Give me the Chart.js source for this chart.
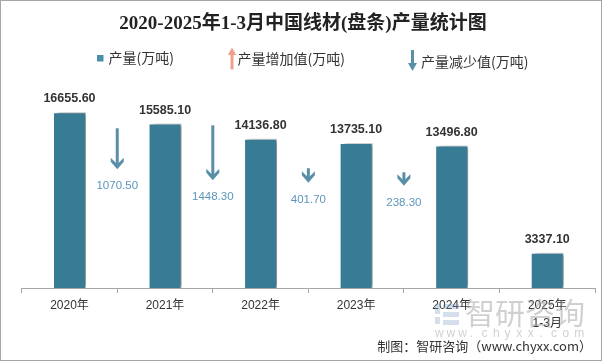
<!DOCTYPE html>
<html>
<head>
<meta charset="utf-8">
<script src="https://cdn.jsdelivr.net/npm/chart.js@4.4.1/dist/chart.umd.min.js"></script>
<style>
  html, body { margin: 0; padding: 0; background: #fff; }
  #wrap { width: 604px; height: 361px; position: relative; }
</style>
</head>
<body>
<div id="wrap"><canvas id="lineChart"></canvas></div>
<script>
// Dữ liệu biểu đồ
const categories = ['2020年', '2021年', '2022年', '2023年', '2024年', ['2025年', '1-3月']];
const production = [16655.6, 15585.1, 14136.8, 13735.1, 13496.8, 3337.1];
const decrease = [1070.5, 1448.3, 401.7, 238.3];
const arrowTop = [15140, 15420, 11350, 10970];
const arrowBottom = [11250, 10210, 9970, 9690];

const titleText = '2020-2025年1-3月中国线材(盘条)产量统计图';
const legendTexts = ['产量(万吨)', '产量增加值(万吨)', '产量减少值(万吨)'];
const sourceText = '制图：智研咨询（www.chyxx.com）';

const BAR_COLOR = '#387b94';
const ARROW_COLOR = '#5a8fa7';
const ARROW_LABEL = '#5b96bb';
const UP_COLOR = '#f0a08a';
const TEXT = '#333333';
const CJK = '"Noto Sans CJK SC"';

/**
 * Bóng đổ cho cột
 */
const shadowPlugin = {
    id: 'barShadow',
    beforeDatasetDraw(chart) {
        const ctx = chart.ctx;
        ctx.save();
        ctx.shadowColor = 'rgba(0,0,0,0.45)';
        ctx.shadowOffsetX = 4;
        ctx.shadowOffsetY = 0;
        ctx.shadowBlur = 4;
    },
    afterDatasetDraw(chart) {
        chart.ctx.restore();
    }
};

function drawDownArrow(ctx, cx, top, bot) {
    const headH = 11.5, half = 6.5, t = 4;
    ctx.fillStyle = ARROW_COLOR;
    if (bot - 3 > top) ctx.fillRect(cx - 1.5, top, 3, bot - 3 - top);
    ctx.beginPath();
    ctx.moveTo(cx, bot);
    ctx.lineTo(cx - half, bot - headH + t);
    ctx.lineTo(cx - half, bot - headH);
    ctx.lineTo(cx, bot - t - 1);
    ctx.lineTo(cx + half, bot - headH);
    ctx.lineTo(cx + half, bot - headH + t);
    ctx.closePath();
    ctx.fill();
}

/**
 * Mũi tên giảm + nhãn, nhãn giá trị
 */
const decorPlugin = {
    id: 'decor',
    afterDatasetsDraw(chart) {
        const ctx = chart.ctx;
        const xs = chart.scales.x, ys = chart.scales.y;
        ctx.save();

        // nhãn giá trị trên cột
        const meta = chart.getDatasetMeta(0);
        ctx.font = 'bold 12.5px "Liberation Sans", Arial';
        ctx.fillStyle = TEXT;
        ctx.textAlign = 'center';
        ctx.textBaseline = 'middle';
        meta.data.forEach((bar, i) => {
            ctx.fillText(production[i].toFixed(2), bar.x, bar.y - 13.5);
        });

        // mũi tên giảm
        decrease.forEach((v, i) => {
            const cx = (xs.getPixelForValue(i) + xs.getPixelForValue(i + 1)) / 2;
            const top = ys.getPixelForValue(arrowTop[i]);
            const bot = ys.getPixelForValue(arrowBottom[i]);
            drawDownArrow(ctx, cx, top, bot);
            ctx.font = '11.5px "Liberation Sans", Arial';
            ctx.fillStyle = ARROW_LABEL;
            ctx.fillText(v.toFixed(2), cx, bot + 17);
        });
        ctx.restore();
    },
    afterDraw(chart) {
        const ctx = chart.ctx;
        ctx.save();

        // tiêu đề
        ctx.font = 'bold 19px "Liberation Serif", ' + CJK;
        ctx.fillStyle = '#222';
        ctx.textAlign = 'center';
        ctx.textBaseline = 'middle';
        ctx.fillText(titleText, 303, 24);

        // chú thích
        ctx.textAlign = 'left';
        ctx.font = '14px ' + CJK;
        ctx.fillStyle = '#4a8fa9';
        ctx.fillRect(97, 55, 6.5, 6.5);
        ctx.fillStyle = TEXT;
        ctx.fillText(legendTexts[0], 108.5, 57.5);

        // mũi tên lên (cam)
        ctx.fillStyle = UP_COLOR;
        ctx.fillRect(230.5, 54, 3, 15.5);
        ctx.beginPath();
        ctx.moveTo(232, 47.5);
        ctx.lineTo(236.2, 55);
        ctx.lineTo(227.8, 55);
        ctx.closePath();
        ctx.fill();
        ctx.fillStyle = TEXT;
        ctx.fillText(legendTexts[1], 237.5, 59);

        // mũi tên xuống
        ctx.fillStyle = ARROW_COLOR;
        ctx.fillRect(411, 50, 3, 14);
        ctx.beginPath();
        ctx.moveTo(412.5, 71);
        ctx.lineTo(417, 63);
        ctx.lineTo(408, 63);
        ctx.closePath();
        ctx.fill();
        ctx.fillStyle = TEXT;
        ctx.fillText(legendTexts[2], 421, 61.5);

        // watermark
        ctx.fillStyle = 'rgba(150,150,150,0.45)';
        ctx.font = '30px ' + CJK;
        ctx.textAlign = 'left';
        ctx.fillText('智研咨询', 465, 313);
        ctx.font = '12px "Liberation Sans", Arial';
        const wm = 'www.chyxx.com';
        for (let k = 0; k < wm.length; k++) {
            ctx.fillText(wm[k], 435 + k * 11.6, 334);
        }
        ctx.fillStyle = 'rgba(110,150,190,0.3)';
        ctx.fillRect(435, 304, 5, 10);
        ctx.fillRect(435, 317, 5, 7);
        ctx.fillRect(443, 304, 16, 5);
        ctx.fillRect(443, 312, 16, 5);
        ctx.fillRect(443, 320, 16, 5);

        // nguồn
        ctx.fillStyle = TEXT;
        ctx.font = '13px ' + CJK;
        ctx.textAlign = 'right';
        ctx.fillText(sourceText, 592, 346.5);

        // khung ngoài
        ctx.strokeStyle = '#a6a6a6';
        ctx.lineWidth = 1;
        ctx.strokeRect(0.5, 0.5, 601, 360);
        ctx.restore();
    }
};

const ctx = document.getElementById('lineChart').getContext('2d');
new Chart(ctx, {
    type: 'bar',
    data: {
        labels: categories,
        datasets: [{
            label: legendTexts[0],
            data: production,
            backgroundColor: BAR_COLOR,
            borderColor: '#ffffff',
            borderWidth: 1,
            barPercentage: 0.345,
            categoryPercentage: 1
        }]
    },
    options: {
        responsive: true,
        maintainAspectRatio: false,
        animation: false,
        layout: {
            padding: { left: 21.7, right: 9, top: 77, bottom: 0 }
        },
        scales: {
            x: {
                afterFit: function(axis) { axis.height = 73; },
                grid: {
                    offset: true,
                    drawOnChartArea: false,
                    tickLength: 5,
                    color: '#a6a6a6'
                },
                border: { display: true, color: '#a6a6a6' },
                ticks: {
                    color: TEXT,
                    padding: 4,
                    maxRotation: 0,
                    minRotation: 0,
                    autoSkip: false,
                    font: { family: '"Liberation Sans", ' + CJK, size: 12, lineHeight: 1.5 }
                }
            },
            y: {
                display: false,
                min: 0,
                max: 20000
            }
        },
        plugins: {
            legend: { display: false },
            tooltip: { enabled: false }
        }
    },
    plugins: [shadowPlugin, decorPlugin]
});
</script>
</body>
</html>
